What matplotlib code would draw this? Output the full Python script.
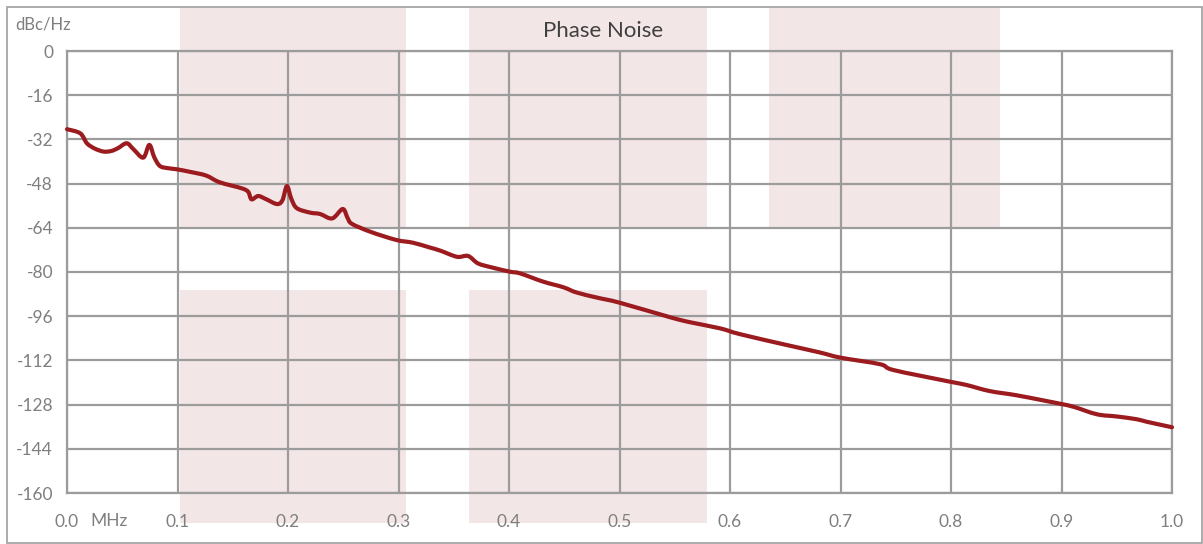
import matplotlib
matplotlib.use("Agg")
import matplotlib.pyplot as plt
from matplotlib.patches import Rectangle, PathPatch
from matplotlib.path import Path

plt.rcParams['font.family'] = ['Lato', 'DejaVu Sans']

# Data (MHz, dBc/Hz)
freq_mhz = [0.000, 0.012, 0.018, 0.025, 0.033, 0.040, 0.046, 0.054, 0.060, 0.069, 0.0745, 0.079,
            0.084, 0.091, 0.099, 0.112, 0.126, 0.138, 0.158, 0.164, 0.167, 0.173, 0.180, 0.190,
            0.195, 0.199, 0.203, 0.208, 0.220, 0.229, 0.240, 0.2495, 0.254, 0.258, 0.275,
            0.298, 0.313, 0.328, 0.338, 0.353, 0.363, 0.372, 0.385, 0.401, 0.410, 0.431,
            0.449, 0.461, 0.480, 0.500, 0.546, 0.564, 0.591, 0.609, 0.651, 0.681, 0.700,
            0.736, 0.748, 0.799, 0.814, 0.835, 0.859, 0.885, 0.900, 0.911, 0.932, 0.950,
            0.968, 0.977, 1.000]
noise_dbc = [-28.3, -29.8, -33.4, -35.3, -36.4, -36.2, -35.2, -33.4, -35.5, -38.6, -34.0, -38.5,
             -41.6, -42.4, -42.8, -43.8, -45.1, -47.5, -49.7, -51.0, -53.7, -52.5, -53.6, -55.4,
             -54.0, -48.9, -53.5, -56.9, -58.5, -59.0, -60.6, -57.2, -60.5, -62.6, -65.5,
             -68.4, -69.4, -71.1, -72.3, -74.5, -74.2, -76.9, -78.4, -79.9, -80.5, -83.5,
             -85.5, -87.4, -89.3, -91.1, -96.4, -98.2, -100.4, -102.5, -106.4, -109.1, -111.0,
             -113.4, -115.5, -119.7, -120.9, -123.1, -124.6, -126.6, -127.8, -128.8, -131.5, -132.3,
             -133.3, -134.2, -136.2]

x_ticks = [0.0, 0.1, 0.2, 0.3, 0.4, 0.5, 0.6, 0.7, 0.8, 0.9, 1.0]
x_tick_labels = ["0.0", "0.1", "0.2", "0.3", "0.4", "0.5", "0.6", "0.7", "0.8", "0.9", "1.0"]
y_ticks = [0, -16, -32, -48, -64, -80, -96, -112, -128, -144, -160]

W, H = 1203, 544
fig = plt.figure(figsize=(W / 100, H / 100), dpi=100)
fig.patch.set_facecolor('white')

def fx(px):
    return px / W

def fy(py):
    return 1 - py / H

# background pink blocks (figure pixel boxes)
pink = '#F3E6E7'
blocks = [(180, 8, 406, 228), (469, 8, 707, 228), (769, 8, 1000, 228),
          (180, 290, 406, 523), (469, 290, 707, 523)]
for x0, y0, x1, y1 in blocks:
    fig.patches.append(Rectangle((fx(x0), fy(y1)), fx(x1) - fx(x0), fy(y0) - fy(y1),
                                 transform=fig.transFigure, facecolor=pink,
                                 edgecolor='none', zorder=-2))

# outer frame
fig.patches.append(Rectangle((fx(7), fy(543)), fx(1202) - fx(7), fy(7) - fy(543),
                             transform=fig.transFigure, facecolor='none',
                             edgecolor='#A6A6A6', linewidth=1.3, zorder=-1))

ax = fig.add_axes([fx(67), fy(493), fx(1172) - fx(67), fy(51) - fy(493)])
ax.patch.set_alpha(0)
ax.set_xlim(0, 1.0)
ax.set_ylim(-160, 0)

grid_col = '#9C9C9C'
ax.set_xticks(x_ticks)
ax.set_xticklabels(x_tick_labels)
ax.set_yticks(y_ticks)
ax.set_yticklabels([str(v) for v in y_ticks])
ax.grid(True, color=grid_col, linewidth=1.6, zorder=1)
ax.set_axisbelow(True)
for s in ax.spines.values():
    s.set_color(grid_col)
    s.set_linewidth(1.6)
ax.tick_params(length=0, colors='#7F7F7F', labelsize=12.5)
ax.tick_params(axis='x', pad=15)
ax.tick_params(axis='y', pad=10)

# smoothed line (Catmull-Rom rendered as cubic Bezier segments through the data points)
pts = list(zip(freq_mhz, noise_dbc))
n = len(pts)
verts = [pts[0]]
codes = [Path.MOVETO]
for i in range(n - 1):
    p0 = pts[i - 1] if i > 0 else pts[i]
    p1 = pts[i]
    p2 = pts[i + 1]
    p3 = pts[i + 2] if i + 2 < n else pts[i + 1]
    c1 = (p1[0] + (p2[0] - p0[0]) / 6, p1[1] + (p2[1] - p0[1]) / 6)
    c2 = (p2[0] - (p3[0] - p1[0]) / 6, p2[1] - (p3[1] - p1[1]) / 6)
    verts += [c1, c2, p2]
    codes += [Path.CURVE4] * 3
ax.add_patch(PathPatch(Path(verts, codes), facecolor='none', edgecolor='#9B1B1F',
                       linewidth=3.0, joinstyle='round', capstyle='round',
                       zorder=3, clip_on=False))

fig.text(fx(90), fy(521), "MHz", color='#7F7F7F', fontsize=12.5, va='center', ha='left')
fig.text(fx(15), fy(25), "dBc/Hz", color='#7F7F7F', fontsize=12, va='center', ha='left')
fig.text(fx(603), fy(31), "Phase Noise", color='#404040', fontsize=16, va='center', ha='center')

fig.savefig("out.png", dpi=100, facecolor='white')
